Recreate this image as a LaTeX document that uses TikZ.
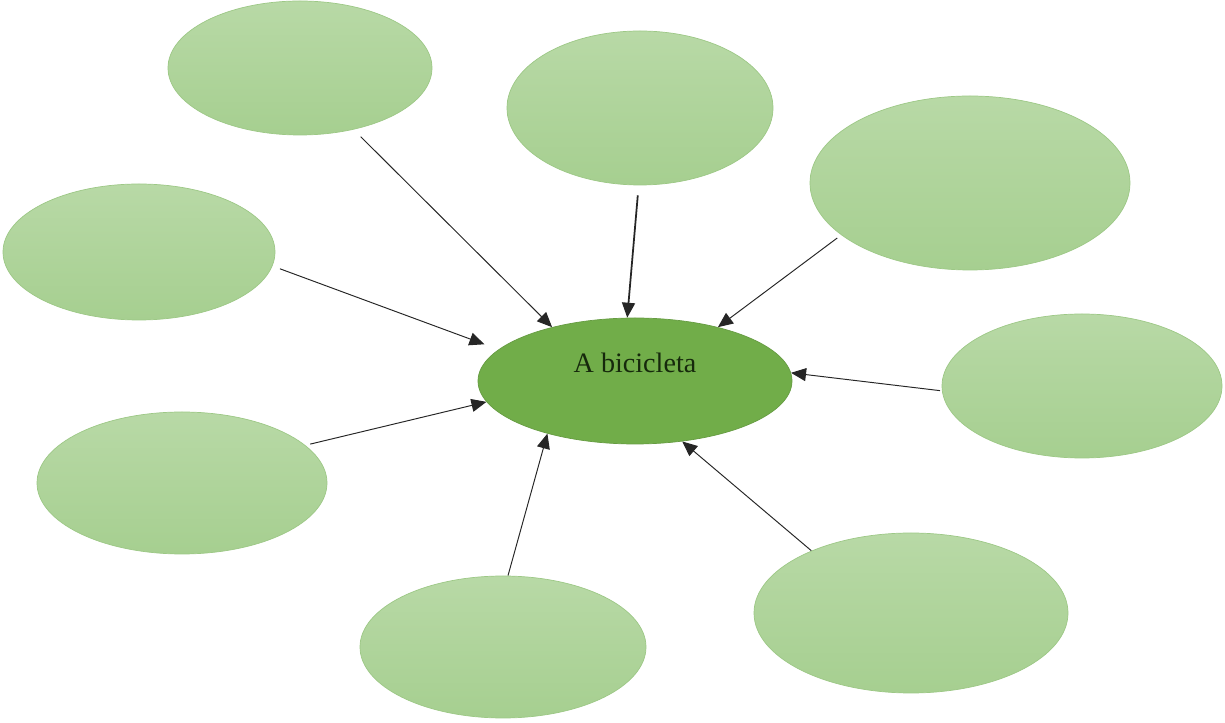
\documentclass[tikz,border=0pt]{standalone}
\usepackage{fontspec}
\setmainfont{Liberation Serif}
\usepackage{tikz}
\usetikzlibrary{shapes.geometric,arrows.meta}
\pgfdeclarelayer{bg}
\pgfsetlayers{bg,main}
\definecolor{leaftop}{HTML}{B8D9A6}
\definecolor{leafbot}{HTML}{A6CF90}
\definecolor{leafrim}{HTML}{9DC886}
\definecolor{hubfill}{HTML}{71AD49}
\definecolor{hubtext}{HTML}{16290C}
\tikzset{
    every node/.style={ellipse, inner sep=0mm}
}
\tikzset{leaf/.style={top color=leaftop, bottom color=leafbot, draw=leafrim, line width=0.4pt}}
\tikzset{hub/.style={fill=hubfill, draw=hubfill!90!black, line width=0.4pt}}
\tikzset{arr/.style={-{Triangle[length=0.3cm, width=0.26cm]}, line width=0.55pt, draw=black!85}}

\begin{document}
\begin{tikzpicture}
    \useasboundingbox (0cm, 0cm) rectangle (24.5cm, 14.46cm);

    \node (tl) [leaf, minimum width=5.28cm, minimum height=2.68cm] at (6.00cm, 13.10cm) {};
    \node (tm) [leaf, minimum width=5.32cm, minimum height=3.08cm] at (12.80cm, 12.30cm) {};
    \node (tr) [leaf, minimum width=6.40cm, minimum height=3.48cm] at (19.40cm, 10.80cm) {};
    \node (ml) [leaf, minimum width=5.44cm, minimum height=2.72cm] at (2.78cm, 9.42cm) {};
    \node (mr) [leaf, minimum width=5.60cm, minimum height=2.88cm] at (21.64cm, 6.74cm) {};
    \node (bl) [leaf, minimum width=5.80cm, minimum height=2.84cm] at (3.64cm, 4.80cm) {};
    \node (bm) [leaf, minimum width=5.72cm, minimum height=2.84cm] at (10.06cm, 1.52cm) {};
    \node (br) [leaf, minimum width=6.28cm, minimum height=3.20cm] at (18.22cm, 2.20cm) {};

    \node (bike) [hub, minimum width=6.28cm, minimum height=2.52cm] at (12.70cm, 6.84cm) {};
    \node (bikelabel) [draw=none, fill=none, text=hubtext, font=\fontsize{16}{19}\selectfont] at (12.70cm, 7.20cm) {A bicicleta};

    \begin{pgfonlayer}{bg}
        \draw (tl.-49) edge[arr, shorten <=0.2cm] (bike.147);
        \draw (tm.-91) edge[arr, line width=1pt, shorten <=0.2cm] (bike.97);
        \draw (tr.202) edge[arr, shorten <=0.1cm] (bike.33);
        \draw (ml.-6) edge[arr, shorten <=0.16cm, shorten >=0.3cm] (bike.167);
        \draw (mr.182) edge[arr, shorten <=0.04cm] (bike.3);
        \draw (bl.17) edge[arr, shorten <=0.1cm] (bike.188);
        \draw (bm.86) edge[arr] (bike.211.5);
        \draw (br.148.5) edge[arr] (bike.-52);
    \end{pgfonlayer}
\end{tikzpicture}
\end{document}
